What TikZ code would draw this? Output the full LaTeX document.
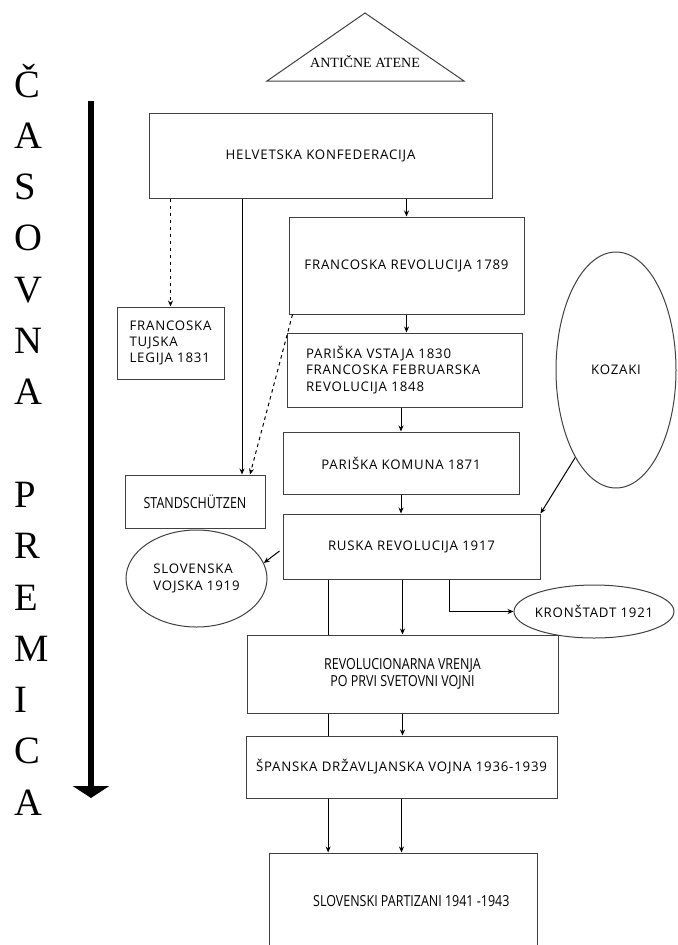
\documentclass[tikz,border=0pt]{standalone}
\usepackage{fontspec}
\setmainfont{Liberation Serif}
\newfontfamily\boxfont{Open Sans}[LetterSpace=6]
\newfontfamily\narrowfont{Open Sans}[FakeStretch=0.82]
\usetikzlibrary{arrows.meta,shapes.geometric}

\begin{document}
\begin{tikzpicture}[x=0.3mm,y=-0.3mm,line width=0.3mm,
    >={Stealth[length=1.8mm,width=1.5mm]}]

      \useasboundingbox (0,0) rectangle (678,945);
      \clip (0,0) rectangle (678,945);

      % time line
      \foreach \ch [count=\i from 0] in {Č,A,S,O,V,N,A,,P,R,E,M,I,C,A}
        \node[anchor=base west,inner sep=0pt,font=\fontsize{33}{33}\selectfont]
          (l\i) at (14,{97+51.3*\i}) {\ch};
      \coordinate (tstart) at (91,101);
      \coordinate (tend)   at (91,798);
      \draw[line width=2mm,-{Triangle[width=10.8mm,length=3.6mm]}] (tstart) -- (tend);

      \draw[black!75] (267,81) -- (365,13) -- (464,81) -- cycle;
      \node[font=\fontsize{12}{12}\selectfont] (atene) at (365,62) {ANTIČNE ATENE};

      \begin{scope}[every node/.style={rectangle,draw=black!75,inner sep=0pt,align=center,
          font=\boxfont\fontsize{11.3}{14}\selectfont}]
        \node[minimum width=102.9mm,minimum height=25.5mm] (helv)   at (320.5,155.5) {HELVETSKA KONFEDERACIJA};
        \node[minimum width=70.5mm,minimum height=29.1mm]  (frrev)  at (406.5,265.5) {FRANCOSKA REVOLUCIJA 1789};
        \node[minimum width=32.1mm,minimum height=21.6mm,align=left]
          (legija) at (170.5,343) {FRANCOSKA\\TUJSKA\\LEGIJA 1831};
        \node[minimum height=22.2mm,text width=59.1mm,inner xsep=5.7mm,align=left]
          (vstaja) at (404.5,370) {PARIŠKA VSTAJA 1830\\FRANCOSKA FEBRUARSKA\\REVOLUCIJA 1848};
        \node[minimum width=70.8mm,minimum height=18.6mm]  (komuna) at (401,463)     {PARIŠKA KOMUNA 1871};
        \node[minimum width=42mm,minimum height=15.9mm,font=\narrowfont\fontsize{13}{15}\selectfont]
          (stand) at (195,501.5) {STANDSCHÜTZEN};
        \node[minimum width=77.1mm,minimum height=19.5mm]  (ruska)  at (411.5,546.5) {RUSKA REVOLUCIJA 1917};
        \node[minimum width=93.3mm,minimum height=23.4mm,font=\narrowfont\fontsize{13}{15}\selectfont]
          (vrenja) at (402.5,674) {REVOLUCIONARNA VRENJA\\PO PRVI SVETOVNI VOJNI};
        \node[minimum width=93.3mm,minimum height=18.6mm]  (spanska) at (401.5,767) {ŠPANSKA DRŽAVLJANSKA VOJNA 1936-1939};
        \node[minimum width=80.4mm,minimum height=29.1mm,font=\narrowfont\fontsize{13}{15}\selectfont]
          (partizani) at (403,901.5) {\hspace*{5mm}SLOVENSKI PARTIZANI 1941 -1943};
      \end{scope}

      \begin{scope}[every node/.style={ellipse,draw=black!75,inner sep=0pt,align=left,
          font=\boxfont\fontsize{11.3}{14}\selectfont}]
        \node[minimum width=42.3mm,minimum height=29.1mm] (vojska) at (196.5,578.5) {SLOVENSKA\\VOJSKA 1919};
        \node[minimum width=36mm,minimum height=70.8mm]   (kozaki) at (616,370)     {KOZAKI};
        \node[minimum width=48mm,minimum height=15.9mm,inner sep=-1.5mm] (kron) at (594,611.5) {KRONŠTADT 1921};
      \end{scope}

      \coordinate (s1) at ([xshift=14.1mm]stand.north);
      \coordinate (lx) at ([xshift=-25mm]ruska.south);
      \coordinate (kx) at ([xshift=11.25mm]ruska.south);

      \begin{scope}[every edge/.style={draw,->}]
        \path (frrev.north |- helv.south)   edge (frrev.north);
        \path (s1 |- helv.south)            edge (s1);
        \path (frrev.south)                 edge (frrev.south |- vstaja.north);
        \path (komuna.north |- vstaja.south) edge (komuna.north);
        \path (komuna.south)                edge (komuna.south |- ruska.north);
        \path (kozaki.245)                  edge (ruska.north east);
        \path ([xshift=-0.9mm,yshift=-1.35mm]ruska.west) edge (vojska.13);
        \path (vrenja.north |- ruska.south) edge (vrenja.north);
        \path (vrenja.south)                edge (vrenja.south |- spanska.north);
        \path (spanska.south)               edge (spanska.south |- partizani.north);
        \path (lx |- spanska.south)         edge (lx |- partizani.north);
      \end{scope}

      \begin{scope}[every edge/.style={draw,dashed,->}]
        \path (legija.north |- helv.south)  edge (legija.north);
        \path ([xshift=1.2mm]frrev.south west) edge ([xshift=16.5mm]stand.north);
      \end{scope}

      \draw (lx) -- (lx |- vrenja.north);
      \draw (lx |- vrenja.south) -- (lx |- spanska.north);
      \draw[->] (kx) |- (kron.west);

\end{tikzpicture}
\end{document}
